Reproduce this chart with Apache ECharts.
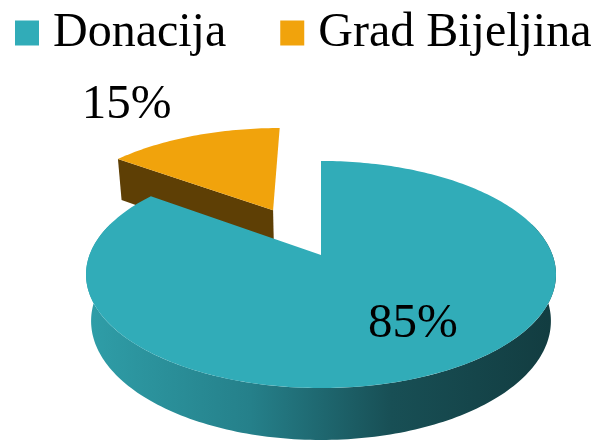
<!DOCTYPE html>
<html>
<head>
<meta charset="utf-8">
<script src="https://cdn.jsdelivr.net/npm/echarts@6/dist/echarts.min.js"></script>
<style>
html, body { margin: 0; padding: 0; background: #fff; }
#chart { width: 600px; height: 442px; }
</style>
</head>
<body>
<div id="chart"></div>
<script>
// data
var categories = ['Donacija', 'Grad Bijeljina'];
var values = [85, 15];
var valueLabels = ['85%', '15%'];

// look
var topColors = ['#31acb8', '#f1a30c'];
var cutColors = ['#1b5a60', '#5e3f05'];
var explode = [0, 0.49];

// fake 3d camera (fitted by eye to the picture)
var CX = 321, CY = 255, K = 231.5;
var SIN_T = 0.476, COS_T = 0.8795, P = 0.1953, H = 0.2307;

function project(x, z, yUp) {
    var u = yUp * COS_T + z * SIN_T;
    var w = z * COS_T - yUp * SIN_T;
    var f = 1 / (1 + P * w);
    return [CX + K * x * f, CY - K * u * f];
}

var total = values.reduce(function (a, b) { return a + b; }, 0);

function renderSlice(i, val) {
    var start = 0;
    for (var j = 0; j < i; j++) start += values[j];
    var a0 = start / total * Math.PI * 2;
    var a1 = (start + val) / total * Math.PI * 2;
    var mid = (a0 + a1) / 2;
    var ox = explode[i] * Math.sin(mid), oz = explode[i] * Math.cos(mid);
    function pt(r, a, y) {
        return project(ox + r * Math.sin(a), oz + r * Math.cos(a), y);
    }
    var n = Math.max(8, Math.ceil((a1 - a0) / 0.02));
    var topArc = [], botArc = [];
    for (var k = 0; k <= n; k++) {
        var a = a0 + (a1 - a0) * k / n;
        topArc.push(pt(1, a, 0));
        botArc.push(pt(1, a, -H));
    }
    var apexT = pt(0, 0, 0), apexB = pt(0, 0, -H);

    var children = [];

    // outer rim, only the front part of it can be seen
    var s0 = Math.max(a0, Math.PI / 2 - 0.3), s1 = Math.min(a1, Math.PI * 1.5 + 0.3);
    if (s1 > s0) {
        var m = Math.ceil((s1 - s0) / 0.02), rimTop = [], rimBot = [];
        for (var q = 0; q <= m; q++) {
            var b = s0 + (s1 - s0) * q / m;
            rimTop.push(pt(1, b, 0));
            rimBot.push(pt(1, b, -H));
        }
        var sideFill = i === 0
            ? new echarts.graphic.LinearGradient(0, 0, 1, 0, [
                { offset: 0, color: '#2f9ea8' },
                { offset: 0.35, color: '#25808a' },
                { offset: 0.65, color: '#184f55' },
                { offset: 1, color: '#123c40' }])
            : cutColors[i];
        children.push({ type: 'polygon', shape: { points: rimTop.concat(rimBot.reverse()) }, style: { fill: sideFill } });
    }
    // cut faces, only the ones turned toward the viewer
    if (Math.cos(a0 - Math.PI / 2) < -0.01) {
        children.push({ type: 'polygon', shape: { points: [apexT, topArc[0], botArc[0], apexB] }, style: { fill: cutColors[i] } });
    }
    if (Math.cos(a1 + Math.PI / 2) < -0.01) {
        children.push({ type: 'polygon', shape: { points: [apexT, topArc[n], botArc[n], apexB] }, style: { fill: cutColors[i] } });
    }
    children.push({ type: 'polygon', shape: { points: [apexT].concat(topArc) }, style: { fill: topColors[i] } });

    var lab;
    if (i === 0) {
        var lp = pt(0.62, mid, 0);
        lab = { x: lp[0] + 20, y: lp[1] + 2, align: 'center', verticalAlign: 'middle' };
    } else {
        var op = pt(1, mid, 0);
        lab = { x: op[0] - 22, y: op[1] - 6, align: 'right', verticalAlign: 'bottom' };
    }
    children.push({
        type: 'text',
        style: {
            text: valueLabels[i], x: lab.x, y: lab.y,
            align: lab.align, verticalAlign: lab.verticalAlign,
            fill: '#000', font: '49px "Liberation Serif"'
        }
    });
    return { type: 'group', children: children };
}

var chart = echarts.init(document.getElementById('chart'));

var series = categories.map(function (name, i) {
    return {
        name: name,
        type: 'custom',
        coordinateSystem: 'none',
        z: i === 0 ? 3 : 2,
        itemStyle: { color: topColors[i] },
        data: [values[i]],
        renderItem: function (params, api) {
            return renderSlice(i, api.value(0));
        }
    };
});

chart.setOption({
    animation: false,
    backgroundColor: '#fff',
    legend: {
        data: categories,
        left: 10,
        top: 4,
        padding: 5,
        icon: 'rect',
        itemWidth: 24,
        itemHeight: 25,
        itemGap: 54,
        textStyle: { fontSize: 48, fontFamily: 'Liberation Serif', color: '#000', padding: [0, 0, 0, 9] }
    },
    series: series
});
</script>
</body>
</html>
